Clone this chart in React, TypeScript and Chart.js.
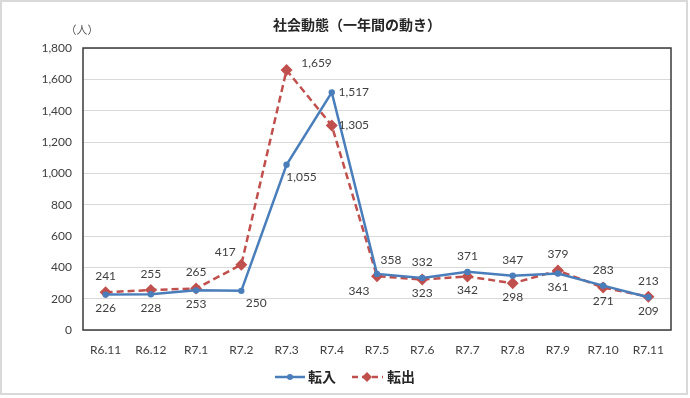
import React, { useEffect, useRef } from "react";
import { Chart, registerables } from "chart.js";

Chart.register(...registerables);

const categories = ["R6.11", "R6.12", "R7.1", "R7.2", "R7.3", "R7.4", "R7.5", "R7.6", "R7.7", "R7.8", "R7.9", "R7.10", "R7.11"];
const tennyu = [226, 228, 253, 250, 1055, 1517, 358, 332, 371, 347, 361, 283, 209];
const tenshutsu = [241, 255, 265, 417, 1659, 1305, 343, 323, 342, 298, 379, 271, 213];
const yMin = 0;
const yMax = 1800;
const yStep = 200;

const TITLE = "社会動態（一年間の動き）";
const UNIT = "（人）";
const SERIES_NAMES = ["転入", "転出"];

const BLUE = "#4a7ebb";
const RED = "#c0504d";
const TEXT = "#404040";
const NUM_FONT = "12px Lato, 'Noto Sans', sans-serif";
const JP_FONT = "'Noto Sans CJK JP', 'Noto Sans', sans-serif";

// label placement per point (style only)
const OFFS: Record<string, [number, number]> = {
  a: [0, -16],
  b: [0, 14],
  br: [15, 12],
  r: [22, 0],
  ar: [14, -14],
  al: [-16, -13],
  bl: [-18, 15],
  tr: [30, -7],
};
const placeIn = ["b", "b", "b", "br", "br", "r", "ar", "a", "a", "a", "b", "a", "b"];
const placeOut = ["a", "a", "a", "al", "tr", "r", "bl", "b", "b", "b", "a", "b", "a"];

const fmt = (v: number) => v.toLocaleString("en-US");

const decorPlugin = {
  id: "decor",
  beforeDraw(chart: any) {
    const ctx = chart.ctx;
    ctx.save();
    ctx.fillStyle = "#ffffff";
    ctx.fillRect(0, 0, chart.width, chart.height);
    ctx.strokeStyle = "#d9d9d9";
    ctx.lineWidth = 2;
    ctx.strokeRect(1, 1, 686, 393);
    ctx.restore();
  },
  beforeDatasetsDraw(chart: any) {
    const { ctx, chartArea: a } = chart;
    ctx.save();
    ctx.strokeStyle = "#3a3a3a";
    ctx.lineWidth = 1.5;
    ctx.strokeRect(a.left, a.top, a.right - a.left, a.bottom - a.top);
    ctx.restore();
  },
  afterDraw(chart: any) {
    const { ctx } = chart;
    ctx.save();
    // title
    ctx.fillStyle = "#262626";
    ctx.font = `bold 14px ${JP_FONT}`;
    ctx.textAlign = "center";
    ctx.textBaseline = "middle";
    ctx.fillText(TITLE, 357, 25);
    // unit
    ctx.fillStyle = "#595959";
    ctx.font = `11px ${JP_FONT}`;
    ctx.fillText(UNIT, 82, 30);

    // data labels
    ctx.font = NUM_FONT;
    ctx.fillStyle = TEXT;
    const places = [placeIn, placeOut];
    chart.data.datasets.forEach((ds: any, di: number) => {
      const meta = chart.getDatasetMeta(di);
      meta.data.forEach((pt: any, i: number) => {
        const o = OFFS[places[di][i]];
        ctx.fillText(fmt(ds.data[i]), pt.x + o[0], pt.y + o[1]);
      });
    });

    // legend
    const ly = 377;
    ctx.lineWidth = 2.5;
    ctx.strokeStyle = BLUE;
    ctx.beginPath();
    ctx.moveTo(275, ly);
    ctx.lineTo(305, ly);
    ctx.stroke();
    ctx.fillStyle = BLUE;
    ctx.beginPath();
    ctx.arc(290, ly, 3, 0, Math.PI * 2);
    ctx.fill();

    ctx.strokeStyle = RED;
    ctx.setLineDash([6, 4]);
    ctx.beginPath();
    ctx.moveTo(352, ly);
    ctx.lineTo(383, ly);
    ctx.stroke();
    ctx.setLineDash([]);
    ctx.fillStyle = RED;
    ctx.beginPath();
    ctx.moveTo(367, ly - 5);
    ctx.lineTo(372, ly);
    ctx.lineTo(367, ly + 5);
    ctx.lineTo(362, ly);
    ctx.closePath();
    ctx.fill();

    ctx.fillStyle = "#262626";
    ctx.font = `bold 14px ${JP_FONT}`;
    ctx.textAlign = "left";
    ctx.fillText(SERIES_NAMES[0], 308, ly);
    ctx.fillText(SERIES_NAMES[1], 387, ly);
    ctx.restore();
  },
};

export default function App() {
  const ref = useRef<HTMLCanvasElement | null>(null);
  useEffect(() => {
    if (!ref.current) return;
    const chart = new Chart(ref.current, {
      type: "line",
      data: {
        labels: categories,
        datasets: [
          {
            label: SERIES_NAMES[0],
            data: tennyu,
            borderColor: BLUE,
            backgroundColor: BLUE,
            borderWidth: 2.5,
            pointStyle: "circle",
            pointRadius: 3.2,
            pointBorderWidth: 0,
            tension: 0,
          },
          {
            label: SERIES_NAMES[1],
            data: tenshutsu,
            borderColor: RED,
            backgroundColor: RED,
            borderWidth: 2.5,
            borderDash: [7, 4],
            pointStyle: "rectRot",
            pointRadius: 6,
            pointBorderWidth: 0,
            tension: 0,
          },
        ],
      },
      options: {
        responsive: false,
        animation: false,
        layout: { padding: { left: 0, top: 48, right: 19, bottom: 0 } },
        plugins: {
          legend: { display: false },
          title: { display: false },
          tooltip: { enabled: false },
        },
        scales: {
          x: {
            offset: true,
            grid: { display: false, drawTicks: false, offset: true },
            border: { display: false },
            ticks: {
              color: TEXT,
              font: { family: "Lato, 'Noto Sans', sans-serif", size: 12 },
              padding: 13,
              maxRotation: 0,
              autoSkip: false,
            },
            afterFit(scale: any) {
              scale.height = 68;
            },
          },
          y: {
            min: yMin,
            max: yMax,
            grid: { color: "#d9d9d9", lineWidth: 1, drawTicks: false },
            border: { display: false },
            ticks: {
              stepSize: yStep,
              color: TEXT,
              font: { family: "Lato, 'Noto Sans', sans-serif", size: 12 },
              padding: 11,
              callback: (v: any) => fmt(Number(v)),
            },
            afterFit(scale: any) {
              scale.width = 83;
            },
          },
        },
      },
      plugins: [decorPlugin],
    });
    return () => chart.destroy();
  }, []);
  return (
    <div style={{ position: "absolute", left: 0, top: 0, width: 690, height: 398, background: "#fff" }}>
      <canvas ref={ref} width={690} height={398} style={{ display: "block", width: 690, height: 398 }} />
    </div>
  );
}
